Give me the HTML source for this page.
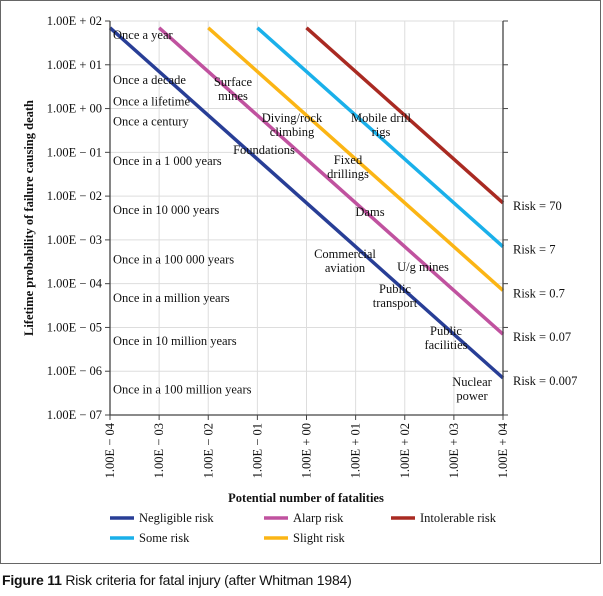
<!DOCTYPE html>
<html><head><meta charset="utf-8"><style>
body{margin:0;background:#fff;width:603px;height:596px;overflow:hidden;font-family:"Liberation Serif",serif;}
svg text{font-family:"Liberation Serif",serif;font-size:12.5px;fill:#111;}
.cap{position:absolute;left:2px;top:572px;font-family:"Liberation Sans",sans-serif;font-size:14px;letter-spacing:-0.2px;color:#111;}
</style></head><body>
<svg id="chart" width="603" height="568" style="position:absolute;left:0;top:0">
<rect x="0.5" y="0.5" width="600" height="563" fill="none" stroke="#666" stroke-width="1"/>
<g id="grid"></g><g id="lines"></g><g id="axes"></g><g id="labels"></g><g id="legend"></g>
</svg>
<div class="cap"><b>Figure 11</b> Risk criteria for fatal injury (after Whitman 1984)</div>
<script>
const xExps=[-4,-3,-2,-1,0,1,2,3,4];
const yExps=[2,1,0,-1,-2,-3,-4,-5,-6,-7];
const xTickLabels=["1.00E − 04","1.00E − 03","1.00E − 02","1.00E − 01","1.00E + 00","1.00E + 01","1.00E + 02","1.00E + 03","1.00E + 04"];
const yTickLabels=["1.00E + 02","1.00E + 01","1.00E + 00","1.00E − 01","1.00E − 02","1.00E − 03","1.00E − 04","1.00E − 05","1.00E − 06","1.00E − 07"];
const seriesNames=["Negligible risk","Alarp risk","Slight risk","Some risk","Intolerable risk"];
const seriesRisk=[0.007,0.07,0.7,7,70];
const seriesStartY=[70,70,70,70,70];
const seriesColors=["#283e96","#c0529f","#fbb515","#1ab0ea","#a92a22"];
const freqLabels=["Once a year","Once a decade","Once a lifetime","Once a century","Once in a 1 000 years","Once in 10 000 years","Once in a 100 000 years","Once in a million years","Once in 10 million years","Once in a 100 million years"];
const freqY=[62,5.8,1.9,0.65,0.083,0.0063,0.00046,0.000062,0.0000063,0.0000005];
const x0=110,x1=503,y0=21,y1=415;
const X=e=>x0+(e-(-4))*(x1-x0)/8;
const Y=e=>y0+(2-e)*(y1-y0)/9;
const lx=v=>X(Math.log10(v)), ly=v=>Y(Math.log10(v));
const NS="http://www.w3.org/2000/svg";
function mk(p,tag,at,txt){const e=document.createElementNS(NS,tag);for(const k in at)e.setAttribute(k,at[k]);if(txt!=null)e.textContent=txt;p.appendChild(e);return e;}
const G=document.getElementById('grid'),L=document.getElementById('lines'),A=document.getElementById('axes'),T=document.getElementById('labels'),LG=document.getElementById('legend');
xExps.forEach((e,i)=>{
 const g=mk(G,'line',{x1:X(e),x2:X(e),y1:y0,y2:y1,stroke:'#ddd','stroke-width':1});
 
 const t=mk(A,'line',{x1:X(e),x2:X(e),y1:y1,y2:y1+5,stroke:'#444'});
 
 const tx=mk(A,'text',{x:0,y:0,transform:`translate(${X(e)+4},${y1+8}) rotate(-90)`,'text-anchor':'end'},xTickLabels[i]);
 
});
yExps.forEach((e,i)=>{
 const g=mk(G,'line',{x1:x0,x2:x1,y1:Y(e),y2:Y(e),stroke:'#ddd','stroke-width':1});
 
 const t=mk(A,'line',{x1:x0-5,x2:x0,y1:Y(e),y2:Y(e),stroke:'#444'});
 
 const r=mk(A,'line',{x1:x1,x2:x1+5,y1:Y(e),y2:Y(e),stroke:'#444'});
 
 const tx=mk(A,'text',{x:x0-8,y:Y(e)+4,'text-anchor':'end'},yTickLabels[i]);
 
});
const ax=mk(A,'path',{d:`M${x0},${y0}V${y1}H${x1}V${y0}`,fill:'none',stroke:'#444','stroke-width':1.3});

seriesRisk.forEach((r,i)=>{
 const xs=r/seriesStartY[i], xe=1e4;
 const l=mk(L,'line',{x1:lx(xs),y1:ly(seriesStartY[i]),x2:lx(xe),y2:ly(r/xe),stroke:seriesColors[i],'stroke-width':3.5});
 
 const t=mk(T,'text',{x:x1+10,y:ly(r/xe)+7},'Risk = '+r);
 
});
freqLabels.forEach((s,i)=>{
 const t=mk(T,'text',{x:113,y:ly(freqY[i])+9},s);
 
});
const act=[["Surface",233,86],["mines",233,100],["Diving/rock",292,122],["climbing",292,136],["Foundations",264,154],["Mobile drill",381,122],["rigs",381,136],["Fixed",348,164],["drillings",348,178],["Dams",370,216],["Commercial",345,258],["aviation",345,272],["U/g mines",423,271],["Public",395,293],["transport",395,307],["Public",446,335],["facilities",446,349],["Nuclear",472,386],["power",472,400]];
act.forEach(a=>{const t=mk(T,'text',{x:a[1],y:a[2],'text-anchor':'middle'},a[0]);
 });
const xt=mk(T,'text',{x:306,y:502,'text-anchor':'middle','font-weight':'bold'},'Potential number of fatalities');

const yt=mk(T,'text',{x:0,y:0,transform:'translate(33,218) rotate(-90)','text-anchor':'middle','font-weight':'bold'},'Lifetime probability of failure causing death');

const legPos=[[110,518],[264,518],[391,518],[110,538],[264,538]];
const legOrder=[0,1,4,3,2];
legOrder.forEach((s,j)=>{const [px,py]=legPos[j];
 const l=mk(LG,'line',{x1:px,x2:px+24,y1:py,y2:py,stroke:seriesColors[s],'stroke-width':3.5});
 
 const t=mk(LG,'text',{x:px+29,y:py+4},seriesNames[s]);
 
});
</script>
</body></html>
